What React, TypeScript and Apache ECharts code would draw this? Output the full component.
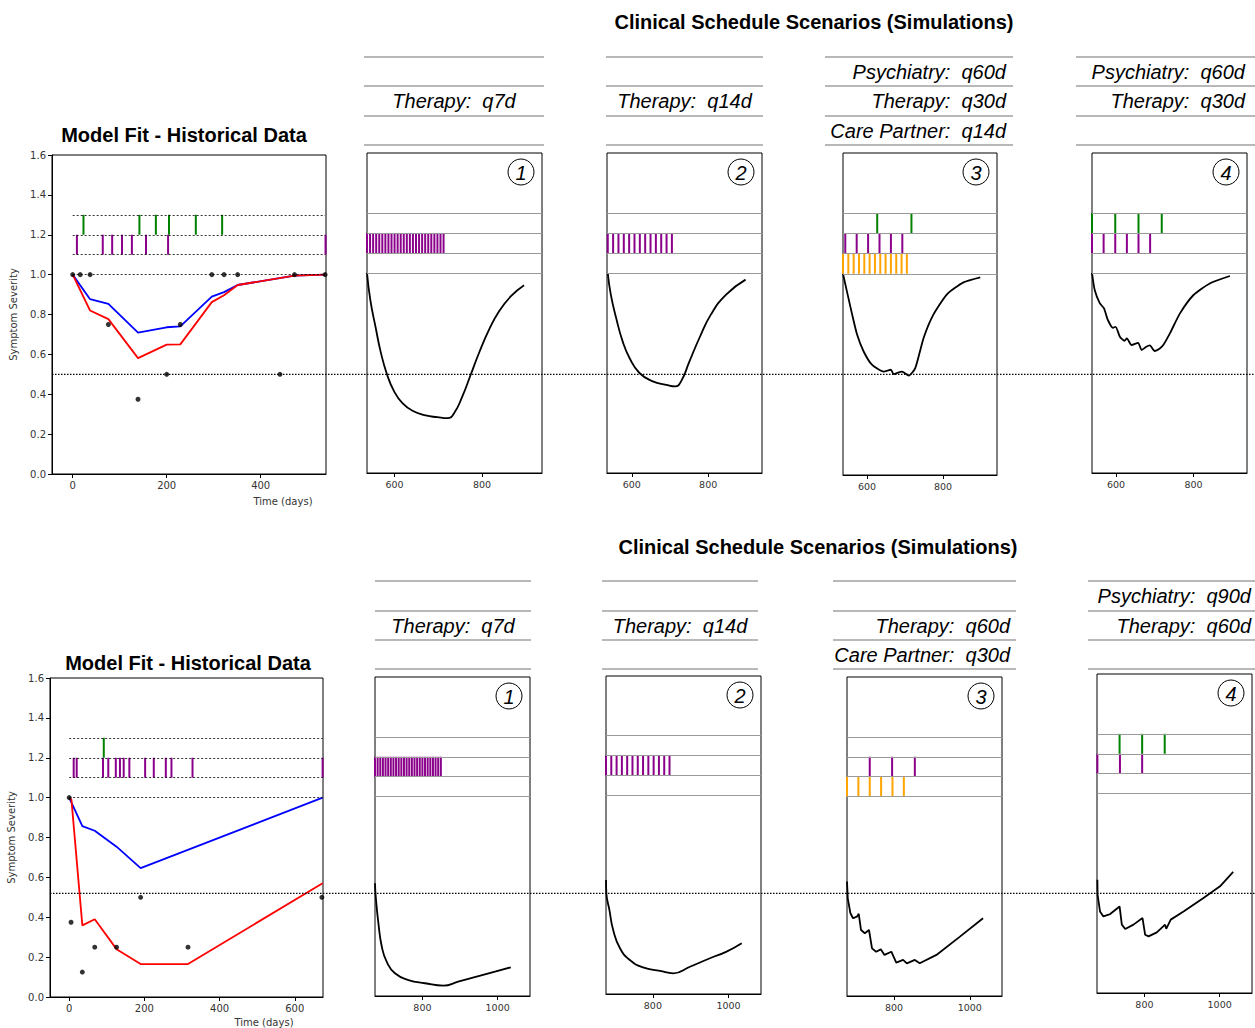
import React, { useEffect, useRef } from "react";
import * as echarts from "echarts";

// ---------- DATA ----------
const lanes = { orange: [1.0, 1.1], purple: [1.1, 1.2], green: [1.2, 1.3] };
const laneLevels = [1.0, 1.1, 1.2, 1.3];
const refLevels = [0.5, 0.52];

// Top row: model fit
const fitTopDotsX = [0, 16, 37, 76, 139, 200, 229, 296, 322, 351, 441, 472, 537];
const fitTopDotsY = [1, 1, 1, 0.75, 0.375, 0.5, 0.75, 1, 1, 1, 0.5, 1, 1];
const fitTopBlue = [[0, 1], [37, 0.877], [76, 0.853], [139, 0.709], [200, 0.736], [229, 0.74], [296, 0.89], [322, 0.912], [351, 0.948], [472, 0.995], [537, 1.0]];
const fitTopRed = [[0, 1], [37, 0.82], [76, 0.777], [139, 0.581], [200, 0.649], [229, 0.65], [296, 0.862], [322, 0.897], [351, 0.948], [472, 0.995], [537, 1.0]];
const fitTopGreen = [23, 142, 177, 205, 262, 318];
const fitTopPurple = [9, 64, 84, 105, 126, 156, 203, 538];

// Bottom row: model fit
const fitBotDotsX = [0, 5, 35, 68, 126, 190, 316, 672];
const fitBotDotsY = [1.0, 0.375, 0.125, 0.25, 0.25, 0.5, 0.25, 0.5];
const fitBotBlue = [[0, 1], [35, 0.857], [68, 0.834], [126, 0.754], [190, 0.646], [674, 1.0]];
const fitBotRed = [[0, 1], [6, 0.99], [35, 0.359], [68, 0.39], [126, 0.24], [190, 0.165], [316, 0.165], [674, 0.571]];
const fitBotGreen = [92];
const fitBotPurple = [12, 20, 90, 104, 124, 135, 145, 160, 202, 225, 257, 272, 328, 674];

// Top row simulations
const simTop1 = [[537, 1.0], [545, 0.859], [557, 0.725], [568, 0.608], [583, 0.491], [599, 0.408], [618, 0.349], [641, 0.311], [671, 0.288], [698, 0.279], [721, 0.274], [736, 0.299], [755, 0.383], [774, 0.491], [793, 0.6], [816, 0.717], [839, 0.809], [866, 0.884], [896, 0.939]];
const simTop2 = [[537, 1.0], [545, 0.892], [559, 0.775], [576, 0.658], [594, 0.575], [620, 0.5], [655, 0.458], [690, 0.441], [714, 0.433], [729, 0.458], [751, 0.558], [777, 0.675], [807, 0.792], [847, 0.892], [898, 0.967]];
const simTop3 = [[537, 1.0], [547, 0.915], [561, 0.798], [574, 0.698], [591, 0.615], [613, 0.548], [644, 0.514], [663, 0.523], [670, 0.501], [692, 0.514], [710, 0.494], [727, 0.531], [749, 0.681], [775, 0.798], [811, 0.899], [854, 0.957], [898, 0.982]];
const simTop4 = [[538, 1.0], [545, 0.915], [558, 0.849], [569, 0.823], [579, 0.765], [592, 0.726], [599, 0.731], [610, 0.681], [622, 0.661], [628, 0.673], [640, 0.64], [657, 0.651], [666, 0.615], [678, 0.631], [687, 0.638], [700, 0.61], [713, 0.623], [722, 0.64], [739, 0.698], [765, 0.798], [800, 0.89], [843, 0.949], [894, 0.985]];

const top1Purple = [537, 544, 551, 558, 565, 572, 579, 586, 593, 600, 607, 614, 621, 628, 635, 642, 649, 656, 663, 670, 677, 684, 691, 698, 705, 712];
const top2Purple = [537, 551, 565, 579, 593, 607, 621, 635, 649, 663, 677, 691, 705];
const top3Green = [627, 717];
const top3Purple = [543, 573, 603, 633, 663, 693];
const top3Orange = [537, 551, 565, 579, 593, 607, 621, 635, 649, 663, 677, 691, 705];
const top4Green = [538, 598, 658, 718];
const top4Purple = [538, 568, 598, 628, 658, 688];

// Bottom row simulations
const simBot1 = [[674, 0.566], [676, 0.498], [683, 0.365], [692, 0.248], [705, 0.172], [727, 0.114], [763, 0.08], [807, 0.064], [856, 0.052], [895, 0.072], [949, 0.1], [993, 0.122], [1035, 0.144]];
const simBot2 = [[676, 0.574], [677, 0.507], [685, 0.423], [695, 0.322], [713, 0.23], [739, 0.171], [774, 0.134], [819, 0.116], [854, 0.104], [898, 0.137], [951, 0.18], [995, 0.213], [1035, 0.255]];
const simBot3 = [[676, 0.574], [678, 0.49], [685, 0.415], [692, 0.39], [702, 0.398], [707, 0.412], [713, 0.331], [723, 0.315], [734, 0.331], [742, 0.239], [753, 0.222], [765, 0.234], [775, 0.206], [793, 0.222], [806, 0.167], [824, 0.181], [834, 0.164], [855, 0.181], [868, 0.164], [912, 0.206], [974, 0.298], [1035, 0.39]];
const simBot4 = [[675, 0.568], [675.5, 0.493], [682, 0.409], [691, 0.384], [709, 0.396], [734, 0.434], [740, 0.343], [749, 0.321], [771, 0.343], [795, 0.376], [802, 0.292], [811, 0.284], [833, 0.304], [855, 0.343], [858, 0.322], [870, 0.368], [904, 0.409], [957, 0.476], [1001, 0.535], [1036, 0.607]];

const bot1Purple = [674, 681, 688, 695, 702, 709, 716, 723, 730, 737, 744, 751, 758, 765, 772, 779, 786, 793, 800, 807, 814, 821, 828, 835, 842, 849];
const bot2Purple = [676, 690, 704, 718, 732, 746, 760, 774, 788, 802, 816, 830, 844];
const bot3Purple = [736, 795, 855];
const bot3Orange = [676, 706, 736, 766, 796, 826];
const bot4Green = [734, 794, 854];
const bot4Purple = [675, 735, 794];

// Tick labels
const fitTopTicks = [0, 200, 400];
const fitBotTicks = [0, 200, 400, 600];
const simTopTicks = [600, 800];
const simBotTicks = [800, 1000];

// Header texts
const headersTop = [
  ["", "Therapy:  q7d", ""],
  ["", "Therapy:  q14d", ""],
  ["Psychiatry:  q60d", "Therapy:  q30d", "Care Partner:  q14d"],
  ["Psychiatry:  q60d", "Therapy:  q30d", ""],
];
const headersBot = [
  ["", "Therapy:  q7d", ""],
  ["", "Therapy:  q14d", ""],
  ["", "Therapy:  q60d", "Care Partner:  q30d"],
  ["Psychiatry:  q90d", "Therapy:  q60d", ""],
];
const panelNumbers = ["1", "2", "3", "4"];
const fitTitle = "Model Fit - Historical Data";
const simTitle = "Clinical Schedule Scenarios (Simulations)";

// ---------- COLORS ----------
const C_PURPLE = "#8b008b";
const C_GREEN = "#008000";
const C_ORANGE = "#ffa500";

export default function App() {
  const ref = useRef<HTMLDivElement>(null);

  useEffect(() => {
    document.body.style.margin = "0";
    document.body.style.overflow = "hidden";
    const chart = echarts.init(ref.current!, null, { renderer: "svg" });

    const panels = [
      { left: 52, top: 155, width: 274, height: 319, xMin: -44, xMax: 539, ticks: fitTopTicks, fit: true },
      { left: 367, top: 153, width: 175, height: 320, xMin: 537, xMax: 937, ticks: simTopTicks, smooth: 0.5 },
      { left: 607, top: 153, width: 155, height: 320, xMin: 535, xMax: 941, ticks: simTopTicks, smooth: 0.5 },
      { left: 843, top: 153, width: 154, height: 322, xMin: 537, xMax: 942, ticks: simTopTicks, smooth: 0.2 },
      { left: 1092, top: 153, width: 155, height: 320, xMin: 538, xMax: 938, ticks: simTopTicks, smooth: 0.2 },
      { left: 50, top: 678, width: 273, height: 319, xMin: -51, xMax: 675, ticks: fitBotTicks, fit: true },
      { left: 375, top: 677, width: 155, height: 319, xMin: 674, xMax: 1086, ticks: simBotTicks, smooth: 0.5 },
      { left: 606, top: 676, width: 155, height: 318, xMin: 676, xMax: 1086, ticks: simBotTicks, smooth: 0.5 },
      { left: 847, top: 677, width: 155, height: 319, xMin: 676, xMax: 1085, ticks: simBotTicks, smooth: false },
      { left: 1097, top: 674, width: 155, height: 319, xMin: 674, xMax: 1086, ticks: simBotTicks, smooth: false },
    ] as any[];

    const grid = panels.map((p) => ({
      left: p.left, top: p.top, width: p.width, height: p.height,
      show: true, borderColor: "#000", borderWidth: 1, backgroundColor: "transparent",
    }));

    const xAxis = panels.map((p, i) => ({
      type: "value", gridIndex: i, min: p.xMin, max: p.xMax,
      axisLine: { show: true, onZero: false, lineStyle: { color: "#000", width: 1 } },
      axisTick: { show: true, inside: false, length: 4, customValues: p.ticks, lineStyle: { color: "#000" } },
      axisLabel: { show: true, customValues: p.ticks, color: "#333", fontSize: p.fit ? 10 : 9.5, fontFamily: "DejaVu Sans", margin: 6, formatter: (v: number) => String(v) },
      splitLine: { show: false },
    }));

    const yAxis = panels.map((p, i) => p.fit ? ({
      type: "value", gridIndex: i, min: 0, max: 1.6, interval: 0.2,
      name: "Symptom Severity", nameLocation: "middle", nameGap: 34,
      nameTextStyle: { fontSize: 10, color: "#333", fontFamily: "DejaVu Sans" },
      axisLine: { show: true, onZero: false, lineStyle: { color: "#000" } },
      axisTick: { show: true, inside: false, length: 4, lineStyle: { color: "#000" } },
      axisLabel: { color: "#333", fontSize: 10, fontFamily: "DejaVu Sans", margin: 6, formatter: (v: number) => v.toFixed(1) },
      splitLine: { show: false },
    }) : ({
      type: "value", gridIndex: i, min: 0, max: 1.6, show: false, splitLine: { show: false },
    }));

    const tickSeries = (i: number, xs: number[], lane: number[], color: string) => ({
      type: "custom", xAxisIndex: i, yAxisIndex: i, silent: true, z: 4,
      data: xs.map((x) => [x, lane[0], lane[1]]),
      encode: { x: 0, y: [1, 2] },
      renderItem: (_params: any, api: any) => {
        const a = api.coord([api.value(0), api.value(1)]);
        const b = api.coord([api.value(0), api.value(2)]);
        return { type: "line", shape: { x1: a[0], y1: a[1], x2: b[0], y2: b[1] }, style: { stroke: color, lineWidth: 2 } };
      },
    });

    const fitSeries = (i: number, dx: number[], dy: number[], blue: number[][], red: number[][], endX: number) => [
      {
        type: "line", xAxisIndex: i, yAxisIndex: i, data: blue, showSymbol: false, silent: true,
        lineStyle: { color: "#0000ff", width: 1.8 }, z: 2,
        markLine: {
          silent: true, symbol: "none", label: { show: false },
          lineStyle: { color: "#000", type: [2, 2], width: 0.8 },
          data: laneLevels.map((v) => [{ coord: [0, v] }, { coord: [endX, v] }]),
        },
      },
      { type: "line", xAxisIndex: i, yAxisIndex: i, data: red, showSymbol: false, silent: true, lineStyle: { color: "#ff0000", width: 1.8 }, z: 3 },
      { type: "scatter", xAxisIndex: i, yAxisIndex: i, data: dx.map((x, k) => [x, dy[k]]), symbolSize: 5, itemStyle: { color: "#000" }, silent: true, z: 5 },
    ];

    const simSeries = (i: number, curve: number[][]) => ({
      type: "line", xAxisIndex: i, yAxisIndex: i, data: curve, showSymbol: false, silent: true,
      smooth: panels[i].smooth,
      lineStyle: { color: "#000", width: 1.8 }, z: 3,
      markLine: {
        silent: true, symbol: "none", label: { show: false },
        lineStyle: { color: "#999", type: "solid", width: 1.2 },
        data: laneLevels.map((v) => ({ yAxis: v })),
      },
    });

    const series: any[] = [
      ...fitSeries(0, fitTopDotsX, fitTopDotsY, fitTopBlue, fitTopRed, fitTopBlue[fitTopBlue.length - 1][0]),
      tickSeries(0, fitTopGreen, lanes.green, C_GREEN),
      tickSeries(0, fitTopPurple, lanes.purple, C_PURPLE),
      simSeries(1, simTop1), tickSeries(1, top1Purple, lanes.purple, C_PURPLE),
      simSeries(2, simTop2), tickSeries(2, top2Purple, lanes.purple, C_PURPLE),
      simSeries(3, simTop3), tickSeries(3, top3Green, lanes.green, C_GREEN),
      tickSeries(3, top3Purple, lanes.purple, C_PURPLE), tickSeries(3, top3Orange, lanes.orange, C_ORANGE),
      simSeries(4, simTop4), tickSeries(4, top4Green, lanes.green, C_GREEN), tickSeries(4, top4Purple, lanes.purple, C_PURPLE),
      ...fitSeries(5, fitBotDotsX, fitBotDotsY, fitBotBlue, fitBotRed, fitBotBlue[fitBotBlue.length - 1][0]),
      tickSeries(5, fitBotGreen, lanes.green, C_GREEN),
      tickSeries(5, fitBotPurple, lanes.purple, C_PURPLE),
      simSeries(6, simBot1), tickSeries(6, bot1Purple, lanes.purple, C_PURPLE),
      simSeries(7, simBot2), tickSeries(7, bot2Purple, lanes.purple, C_PURPLE),
      simSeries(8, simBot3), tickSeries(8, bot3Purple, lanes.purple, C_PURPLE), tickSeries(8, bot3Orange, lanes.orange, C_ORANGE),
      simSeries(9, simBot4), tickSeries(9, bot4Green, lanes.green, C_GREEN), tickSeries(9, bot4Purple, lanes.purple, C_PURPLE),
    ];

    chart.setOption({
      animation: false,
      backgroundColor: "#fff",
      grid, xAxis, yAxis, series,
    });

    // ---------- graphics ----------
    const g: any[] = [];
    const txt = (text: string, x: number, y: number, font: string, align = "center", fill = "#000") => ({
      type: "text", x, y, silent: true,
      style: { text, font, fill, align, verticalAlign: "middle", textAlign: align, textVerticalAlign: "middle" },
    });
    const TITLE_FONT = "bold 20px 'Liberation Sans', Arial, sans-serif";
    const HDR_FONT = "italic 20px 'Liberation Sans', Arial, sans-serif";

    g.push(txt(fitTitle, 184, 135, TITLE_FONT));
    g.push(txt(fitTitle, 188, 663, TITLE_FONT));
    g.push(txt(simTitle, 814, 22, TITLE_FONT));
    g.push(txt(simTitle, 818, 547, TITLE_FONT));
    g.push(txt("Time (days)", 283, 501, "10px 'DejaVu Sans'", "center", "#333"));
    g.push(txt("Time (days)", 264, 1022, "10px 'DejaVu Sans'", "center", "#333"));

    // header tables
    const hdrTop = { ys: [57, 86, 116, 145], ranges: [[364, 544], [606, 763], [825, 1013], [1076, 1255]], rights: [0, 0, 1006, 1245] };
    const hdrBot = { ys: [581, 611, 640, 669], ranges: [[375, 531], [602, 758], [833, 1016], [1088, 1255]], rights: [0, 0, 1010, 1251] };
    const addHeaders = (h: any, texts: string[][]) => {
      h.ranges.forEach((r: number[], k: number) => {
        h.ys.forEach((y: number) => {
          g.push({ type: "line", silent: true, shape: { x1: r[0], y1: y, x2: r[1], y2: y }, style: { stroke: "#a0a0a0", lineWidth: 1.5 } });
        });
        texts[k].forEach((t, s) => {
          if (!t) return;
          const shown = t.replace(/ /g, "\u00a0");
          const cy = (h.ys[s] + h.ys[s + 1]) / 2;
          if (k < 2) g.push(txt(shown, (r[0] + r[1]) / 2, cy, HDR_FONT, "center"));
          else g.push(txt(shown, h.rights[k], cy, HDR_FONT, "right"));
        });
      });
    };
    addHeaders(hdrTop, headersTop);
    addHeaders(hdrBot, headersBot);

    // circled numbers
    [1, 2, 3, 4, 6, 7, 8, 9].forEach((pi, k) => {
      const p = panels[pi];
      const cx = p.left + p.width - 21;
      const cy = p.top + 19;
      g.push({ type: "circle", silent: true, shape: { cx, cy, r: 13 }, style: { fill: "#fff", stroke: "#000", lineWidth: 1 }, z: 10 });
      g.push({ ...txt(panelNumbers[k % 4], cx, cy + 1, "italic 20px 'Liberation Sans', Arial, sans-serif"), z: 11 });
    });

    // dotted reference lines across each row, placed through the fit panels' y scale
    const yTop = (chart.convertToPixel({ gridIndex: 0 } as any, [0, refLevels[0]]) as number[])[1];
    const yBot = (chart.convertToPixel({ gridIndex: 5 } as any, [0, refLevels[1]]) as number[])[1];
    g.push({ type: "line", silent: true, z: 20, shape: { x1: panels[0].left, y1: yTop, x2: 1255, y2: yTop }, style: { stroke: "#000", lineWidth: 1.2, lineDash: [1.5, 1.5] } });
    g.push({ type: "line", silent: true, z: 20, shape: { x1: panels[5].left, y1: yBot, x2: 1255, y2: yBot }, style: { stroke: "#000", lineWidth: 1.2, lineDash: [1.5, 1.5] } });

    chart.setOption({ graphic: g });

    return () => chart.dispose();
  }, []);

  return <div ref={ref} style={{ width: 1255, height: 1028 }} />;
}
